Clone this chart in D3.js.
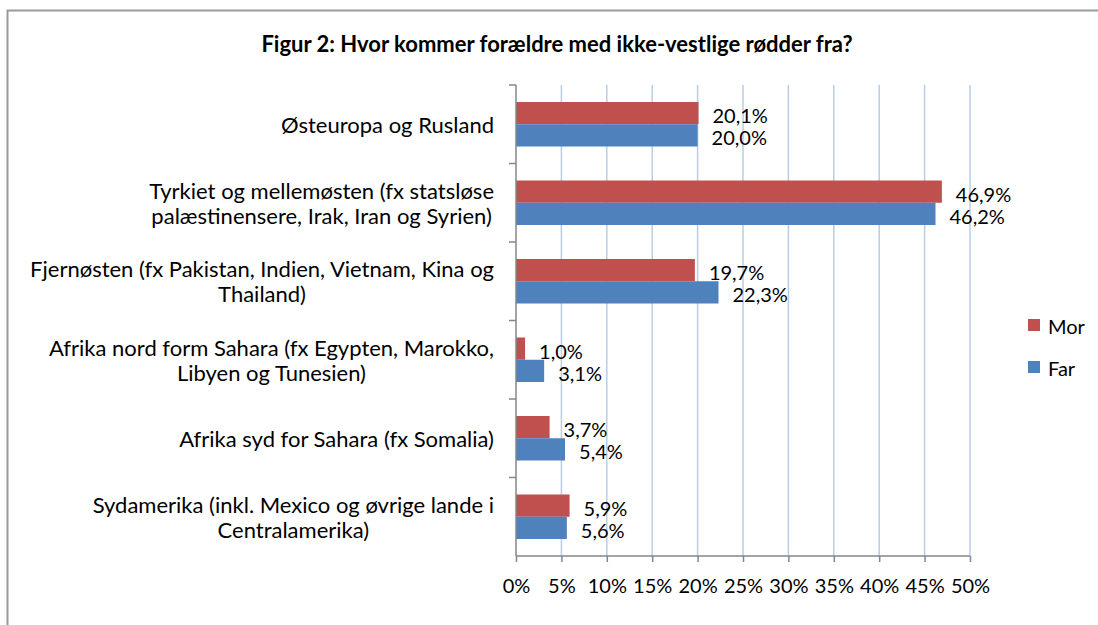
<!DOCTYPE html>
<html lang="da">
<head>
	<meta charset="utf-8">
	<title>Figur 2</title>
	<script src="https://cdn.jsdelivr.net/npm/d3@7"></script>
	<style>
		body { margin: 0; background: #fff; }
		text { font-family: Lato, "Open Sans", sans-serif; fill: #000; }
	</style>
</head>
<body>
	<script>
		var w = 1098;
		var h = 625;

		// data
		var categories = [
			["Østeuropa og Rusland"],
			["Tyrkiet og mellemøsten (fx statsløse", "palæstinensere, Irak, Iran og Syrien)"],
			["Fjernøsten (fx Pakistan, Indien, Vietnam, Kina og", "Thailand)"],
			["Afrika nord form Sahara (fx Egypten, Marokko,", "Libyen og Tunesien)"],
			["Afrika syd for Sahara (fx Somalia)"],
			["Sydamerika (inkl. Mexico og øvrige lande i", "Centralamerika)"]
		];
		var series = ["Mor", "Far"];
		var mor = [20.1, 46.9, 19.7, 1.0, 3.7, 5.9];
		var far = [20.0, 46.2, 22.3, 3.1, 5.4, 5.6];
		var ticks = [0, 5, 10, 15, 20, 25, 30, 35, 40, 45, 50];
		var colors = { Mor: "#c0504d", Far: "#4f81bd" };

		var svg = d3.select("body")
					.append("svg")
					.attr("width", w)
					.attr("height", h);

		// outer chart frame (only top & left edges visible)
		svg.append("rect")
		   .attr("x", 7.5).attr("y", 10.5)
		   .attr("width", w + 20).attr("height", h + 20)
		   .attr("fill", "#fff")
		   .attr("stroke", "#9a9a9a")
		   .attr("stroke-width", 2);

		svg.append("text")
		   .attr("x", 557).attr("y", 52)
		   .attr("text-anchor", "middle")
		   .style("font-weight", "bold")
		   .style("font-size", "22px")
		   .text("Figur 2: Hvor kommer forældre med ikke-vestlige rødder fra?");

		// plot area (note: "top" would clash with window.top)
		var pLeft = 516, pRight = 970, pTop = 85, pBottom = 556;

		var x = d3.scaleLinear().domain([0, 50]).range([pLeft, pRight]);
		var y = d3.scaleBand()
				  .domain(d3.range(categories.length))
				  .range([pTop, pBottom])
				  .paddingInner(0.433)
				  .paddingOuter(0.2165);
		var ySub = d3.scaleBand().domain(series).range([0, y.bandwidth()]);

		// gridlines
		svg.append("g")
		   .selectAll("line")
		   .data(ticks.slice(1))
		   .enter()
		   .append("line")
		   .attr("x1", function(d) { return x(d); })
		   .attr("x2", function(d) { return x(d); })
		   .attr("y1", pTop).attr("y2", pBottom)
		   .attr("stroke", "#b9cde5")
		   .attr("stroke-width", 1.5);

		var rows = categories.map(function(c, i) {
			return { i: i, Mor: mor[i], Far: far[i] };
		});

		var groups = svg.append("g")
						.selectAll("g")
						.data(rows)
						.enter()
						.append("g")
						.attr("transform", function(d) { return "translate(0," + y(d.i) + ")"; });

		groups.selectAll("rect")
			  .data(function(d) { return series.map(function(s) { return { s: s, v: d[s] }; }); })
			  .enter()
			  .append("rect")
			  .attr("x", pLeft)
			  .attr("y", function(d) { return ySub(d.s); })
			  .attr("width", function(d) { return x(d.v) - pLeft; })
			  .attr("height", ySub.bandwidth())
			  .attr("fill", function(d) { return colors[d.s]; });

		groups.selectAll("text")
			  .data(function(d) { return series.map(function(s) { return { s: s, v: d[s] }; }); })
			  .enter()
			  .append("text")
			  .attr("x", function(d) { return x(d.v) + 14; })
			  .attr("y", function(d) { return ySub(d.s) + ySub.bandwidth() / 2 + 2; })
			  .attr("dominant-baseline", "central")
			  .style("font-size", "20px")
			  .text(function(d) { return d.v.toFixed(1).replace(".", ",") + "%"; });

		// x axis
		var xAxis = d3.axisBottom(x)
					  .tickValues(ticks)
					  .tickSize(6)
					  .tickFormat(function(d) { return d + "%"; });
		var gx = svg.append("g")
					.attr("transform", "translate(0," + pBottom + ")")
					.call(xAxis);
		gx.select(".domain").attr("stroke", "#868686").attr("stroke-width", 1.5).attr("d", "M" + pLeft + ",0H" + pRight);
		gx.selectAll(".tick line").attr("stroke", "#868686").attr("stroke-width", 1.5);
		gx.selectAll(".tick text")
		  .attr("y", 37)
		  .attr("dy", 0)
		  .style("font-size", "20px")
		  .style("font-family", "Lato, sans-serif")
		  .attr("fill", "#000");

		// y axis with category ticks at band boundaries
		svg.append("line")
		   .attr("x1", pLeft).attr("x2", pLeft)
		   .attr("y1", pTop).attr("y2", pBottom)
		   .attr("stroke", "#868686").attr("stroke-width", 1.5);
		svg.append("g")
		   .selectAll("line")
		   .data(d3.range(categories.length))
		   .enter()
		   .append("line")
		   .attr("x1", pLeft - 7).attr("x2", pLeft)
		   .attr("y1", function(d) { return y(d) - y.step() * y.paddingOuter(); })
		   .attr("y2", function(d) { return y(d) - y.step() * y.paddingOuter(); })
		   .attr("stroke", "#868686").attr("stroke-width", 1.5);

		// category labels: block right-aligned, lines centred on each other
		categories.forEach(function(lines, i) {
			var cy = y(i) + y.bandwidth() / 2;
			var lh = 25;
			var g = svg.append("g");
			var t = g.append("text")
					 .attr("text-anchor", "middle")
					 .style("font-size", "22px");
			lines.forEach(function(l, j) {
				t.append("tspan")
				 .attr("x", 0)
				 .attr("y", cy + (j - (lines.length - 1) / 2) * lh)
				 .attr("dominant-baseline", "central")
				 .text(l);
			});
			var bw = t.node().getBBox().width;
			g.attr("transform", "translate(" + (494 - bw / 2) + ",0)");
		});

		// legend
		var legend = svg.append("g")
						.selectAll("g")
						.data(series)
						.enter()
						.append("g")
						.attr("transform", function(d, i) { return "translate(1028," + (325 + i * 42) + ")"; });
		legend.append("rect")
			  .attr("x", 0).attr("y", -6)
			  .attr("width", 12).attr("height", 12)
			  .attr("fill", function(d) { return colors[d]; });
		legend.append("text")
			  .attr("x", 20).attr("y", 1)
			  .attr("dominant-baseline", "central")
			  .style("font-size", "20px")
			  .text(function(d) { return d; });
	</script>
</body>
</html>
